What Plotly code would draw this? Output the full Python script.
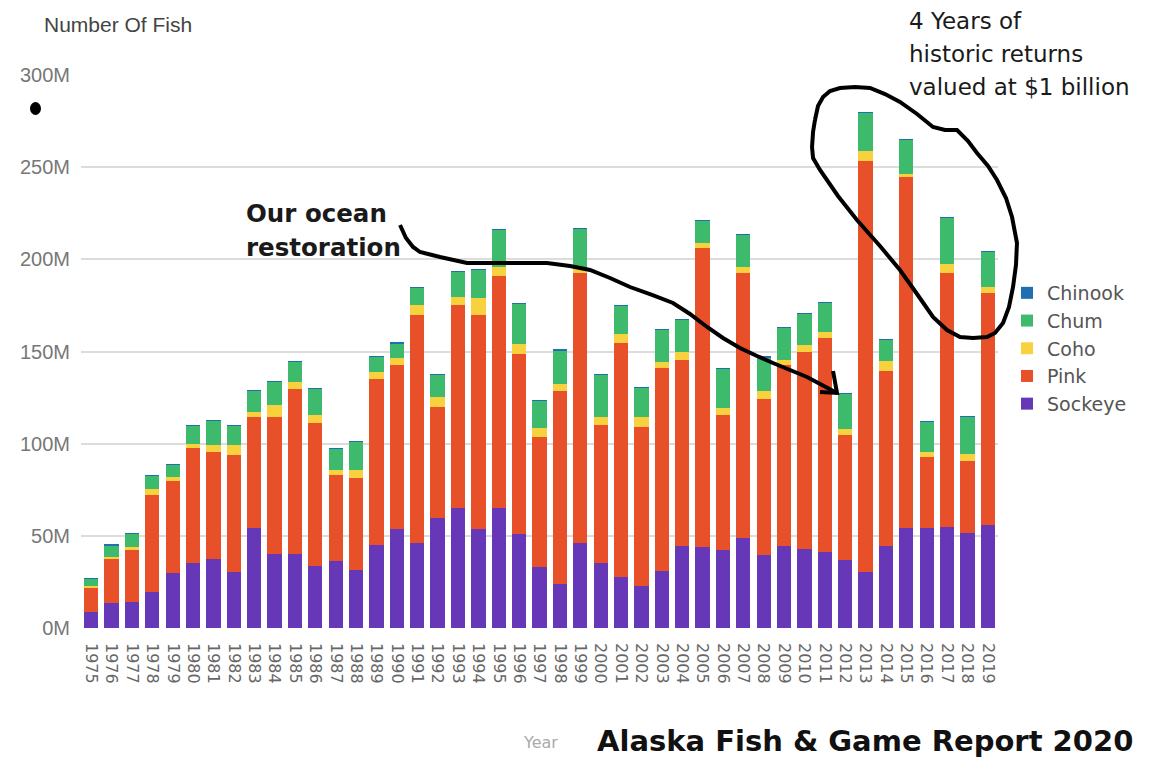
import plotly.graph_objects as go

years = [str(y) for y in range(1975, 2020)]

sockeye = [8.8, 13.4, 14.3, 19.4, 30.0, 35.1, 37.3, 30.2, 54.1, 40.0,
           40.0, 33.8, 36.5, 31.5, 45.0, 53.5, 46.3, 59.5, 64.9, 53.5,
           64.9, 51.0, 33.3, 23.9, 46.3, 35.1, 27.5, 22.8, 31.1, 44.5,
           44.1, 42.3, 48.7, 39.6, 44.5, 42.7, 41.4, 36.9, 30.5, 44.5,
           54.2, 54.1, 54.6, 51.4, 55.9]
pink = [12.7, 23.9, 28.0, 52.8, 49.9, 62.4, 58.4, 63.7, 60.6, 74.7,
        89.5, 77.3, 46.5, 49.7, 89.9, 89.2, 123.5, 60.6, 110.4, 116.3,
        126.1, 97.7, 70.5, 104.9, 146.5, 75.0, 127.0, 86.4, 109.8, 100.9,
        161.9, 73.3, 143.7, 84.9, 98.2, 107.2, 115.8, 67.8, 223.0, 95.0,
        190.4, 38.5, 138.2, 39.4, 126.1]
coho = [1.3, 1.4, 1.5, 3.1, 2.2, 2.3, 3.6, 5.4, 2.7, 6.3,
        4.1, 4.5, 2.7, 4.5, 4.2, 3.6, 5.5, 5.4, 4.5, 9.1,
        4.7, 5.4, 4.6, 3.6, 1.8, 4.2, 5.0, 5.1, 3.6, 4.5,
        3.1, 3.6, 3.3, 4.0, 2.7, 3.7, 3.6, 3.1, 5.2, 5.5,
        1.9, 3.1, 4.7, 3.6, 3.0]
chum = [3.8, 6.3, 7.6, 7.2, 6.7, 10.0, 13.0, 10.5, 11.4, 12.6,
        10.9, 14.1, 11.8, 15.4, 8.1, 8.2, 9.3, 11.8, 13.5, 15.7,
        20.3, 21.7, 14.9, 18.4, 22.3, 23.0, 15.2, 16.3, 17.2, 17.2,
        11.9, 21.7, 17.5, 18.5, 17.6, 17.2, 15.7, 19.2, 20.8, 11.6,
        18.6, 16.3, 25.1, 20.3, 19.0]
chinook = [0.12, 0.1, 0.1, 0.12, 0.14, 0.12, 0.14, 0.15, 0.14, 0.14,
           0.12, 0.12, 0.12, 0.1, 0.1, 0.12, 0.1, 0.09, 0.1, 0.12,
           0.12, 0.1, 0.1, 0.09, 0.09, 0.07, 0.09, 0.1, 0.1, 0.1,
           0.09, 0.1, 0.09, 0.07, 0.05, 0.05, 0.07, 0.07, 0.05, 0.07,
           0.07, 0.07, 0.05, 0.05, 0.05]

series = [
    ("Sockeye", sockeye, "#6638b8"),
    ("Pink", pink, "#e8502a"),
    ("Coho", coho, "#f7d23e"),
    ("Chum", chum, "#3dba6b"),
    ("Chinook", chinook, "#1f6fb2"),
]

fig = go.Figure()
for name, vals, col in series:
    fig.add_trace(go.Bar(x=years, y=vals, name=name, marker_color=col,
                         marker_line_width=0))

OFF = 8  # page body margin
W, H = 1162 - OFF, 758 - OFF
L, T = 81 - OFF, 75 - OFF
R = W - (998 - OFF)
B = H - (628 - OFF)
pw, ph = W - L - R, H - T - B


def px(x, y):
    return ((x - OFF - L) / pw, (H - B - (y - OFF)) / ph)


def path(points, close=False):
    s = ""
    for i, (x, y) in enumerate(points):
        u, v = px(x, y)
        s += ("M" if i == 0 else "L") + f"{u:.4f},{v:.4f}"
    if close:
        s += "Z"
    return s


curve = [(400, 225), (406, 238), (413, 247), (420, 252), (440, 257), (467, 263),
         (500, 263), (547, 263), (570, 266), (590, 270), (610, 278), (630, 287),
         (652, 295), (673, 303), (690, 314), (707, 327), (723, 338), (740, 348),
         (757, 356), (773, 363), (790, 370), (807, 377), (822, 385), (837, 393)]
arrow = [(833, 371), (837, 393), (820, 392)]
loop = [(815, 120), (818, 106), (823, 97), (830, 91), (840, 88), (855, 87), (870, 88),
        (885, 94), (900, 102), (917, 114), (933, 127), (945, 130), (957, 130),
        (968, 141), (977, 153), (988, 166), (997, 180), (1006, 198), (1012, 217),
        (1017, 243), (1016, 265), (1013, 287), (1009, 307), (1003, 323),
        (995, 333), (987, 337), (973, 338), (960, 337), (947, 330), (933, 317),
        (917, 294), (900, 270), (880, 246), (857, 220), (838, 196), (820, 170),
        (813, 158), (812, 147), (813, 132), (815, 120)]

shapes = [
    dict(type="path", xref="paper", yref="paper", path=path(curve),
         line=dict(color="black", width=4)),
    dict(type="path", xref="paper", yref="paper", path=path(arrow),
         line=dict(color="black", width=4)),
    dict(type="path", xref="paper", yref="paper", path=path(loop),
         line=dict(color="black", width=4)),
]
dx0, dy0 = px(30, 102)
dx1, dy1 = px(41, 115)
shapes.append(dict(type="circle", xref="paper", yref="paper", x0=dx0, y0=dy1,
                   x1=dx1, y1=dy0, fillcolor="black", line=dict(color="black", width=0)))

ann = []


def text(t, x, y, family, size, color, anchor="left", bold=False):
    u, v = px(x, y)
    if bold:
        t = "<b>" + t + "</b>"
    ann.append(dict(text=t, xref="paper", yref="paper", x=u, y=v,
                    xanchor=anchor, yanchor="middle", showarrow=False,
                    font=dict(family=family, size=size, color=color)))


text("Number Of Fish", 42, 25, "Liberation Sans", 21, "#444")
text("Our ocean", 244, 213, "DejaVu Sans", 24.5, "#1a1a1a", bold=True)
text("restoration", 244, 247, "DejaVu Sans", 24.5, "#1a1a1a", bold=True)
text("4 Years of", 907, 21, "DejaVu Sans", 23, "#1a1a1a")
text("historic returns", 907, 54, "DejaVu Sans", 23, "#1a1a1a")
text("valued at $1 billion", 907, 87, "DejaVu Sans", 23, "#1a1a1a")
text("Year", 540, 742, "DejaVu Sans", 16, "#aaa", anchor="center")
text("Alaska Fish &amp; Game Report 2020", 595, 741, "DejaVu Sans", 29, "#111", bold=True)

lx, ly = px(1007, 274)

fig.update_layout(
    width=W, height=H, autosize=False,
    margin=dict(l=L, r=R, t=T, b=B, pad=0),
    paper_bgcolor="white", plot_bgcolor="white",
    barmode="stack", bargap=0.3,
    showlegend=True,
    legend=dict(x=lx, y=ly, xanchor="left", yanchor="top", traceorder="reversed",
                font=dict(family="DejaVu Sans", size=19, color="#555"),
                bgcolor="rgba(0,0,0,0)", itemwidth=30),
    shapes=shapes, annotations=ann,
    xaxis=dict(type="category", tickangle=90, showgrid=False, zeroline=False,
               showline=False, ticks="", ticklabelstandoff=14,
               tickfont=dict(family="DejaVu Sans", size=16, color="#666")),
    yaxis=dict(range=[0, 300], tickvals=[0, 50, 100, 150, 200, 250, 300],
               ticktext=["0M", "50M", "100M", "150M", "200M", "250M", "300M"],
               showgrid=True, gridcolor="#dcdcdc", gridwidth=1.5,
               zeroline=False, showline=False, ticks="", ticklabelstandoff=10,
               tickfont=dict(family="Liberation Sans", size=20, color="#777")),
)

fig.write_html("out.html")
